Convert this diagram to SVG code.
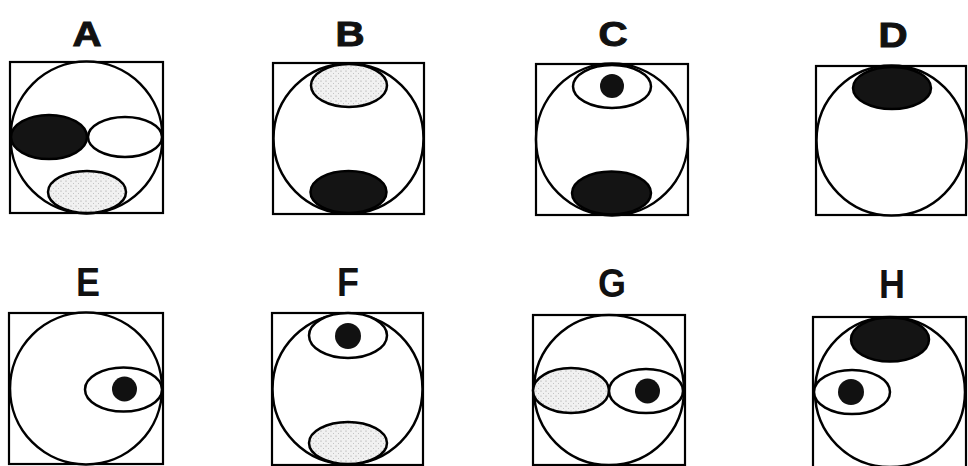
<svg xmlns="http://www.w3.org/2000/svg" width="968" height="466" viewBox="0 0 968 466">
<style>
.sq{fill:#fff;stroke:#000;stroke-width:2.2}
.ci{fill:#fff;stroke:#000;stroke-width:2.5}
.w{fill:#fff;stroke:#000;stroke-width:2.5}
.g{fill:url(#stip);stroke:#000;stroke-width:2.5}
.b{fill:#141414;stroke:#000;stroke-width:2.5}
.dot{fill:#111}
.l1{font-family:"Liberation Sans",Arial,sans-serif;font-weight:bold;font-size:35px;text-anchor:middle;fill:#111;stroke:#111;stroke-width:1}
.l2{font-family:"Liberation Sans",Arial,sans-serif;font-weight:bold;font-size:40px;text-anchor:middle;fill:#111}
</style>
<defs>
<pattern id="stip" width="5" height="5" patternUnits="userSpaceOnUse">
<rect width="5" height="5" fill="#f1f1f1"/>
<circle cx="1" cy="1" r="0.6" fill="#9a9a9a"/>
<circle cx="3.5" cy="3.5" r="0.5" fill="#b5b5b5"/>
</pattern>
</defs>
<g id="A">
<text class="l1" transform="translate(87,46) scale(1.15,1)">A</text>
<rect class="sq" x="10" y="62" width="153" height="151"/>
<circle class="ci" cx="86.5" cy="137.5" r="76"/>
<ellipse class="b" cx="49" cy="137" rx="38" ry="22"/>
<ellipse class="w" cx="125" cy="137" rx="37" ry="20"/>
<ellipse class="g" cx="87" cy="192" rx="39" ry="21"/>
</g>
<g id="B">
<text class="l1" transform="translate(350,46) scale(1.15,1)">B</text>
<rect class="sq" x="273" y="63" width="151" height="151"/>
<circle class="ci" cx="348.5" cy="138.5" r="75"/>
<ellipse class="g" cx="349" cy="85.5" rx="38" ry="21.5"/>
<ellipse class="b" cx="348.5" cy="192" rx="38" ry="21"/>
</g>
<g id="C">
<text class="l1" transform="translate(613,46) scale(1.15,1)">C</text>
<rect class="sq" x="536" y="64" width="152" height="151"/>
<circle class="ci" cx="612" cy="139.5" r="76"/>
<ellipse class="w" cx="612" cy="86.5" rx="39" ry="21.5"/>
<circle class="dot" cx="612" cy="86" r="12"/>
<ellipse class="b" cx="611.5" cy="193" rx="39.5" ry="21.5"/>
</g>
<g id="D">
<text class="l1" transform="translate(893,47) scale(1.15,1)">D</text>
<rect class="sq" x="816" y="66" width="150" height="149"/>
<circle class="ci" cx="891.5" cy="140.5" r="75"/>
<ellipse class="b" cx="892" cy="88" rx="39" ry="21"/>
</g>
<g id="E">
<text class="l2" transform="translate(88,296) scale(0.9,1)">E</text>
<rect class="sq" x="9" y="313" width="154" height="151"/>
<circle class="ci" cx="86" cy="388.5" r="76"/>
<ellipse class="w" cx="123.5" cy="389.5" rx="38.5" ry="22"/>
<circle class="dot" cx="124.5" cy="389" r="12.5"/>
</g>
<g id="F">
<text class="l2" transform="translate(348,296) scale(0.9,1)">F</text>
<rect class="sq" x="272" y="313" width="151" height="152"/>
<circle class="ci" cx="347.5" cy="389" r="75"/>
<ellipse class="w" cx="348" cy="335.5" rx="39" ry="22.5"/>
<circle class="dot" cx="348" cy="336" r="13"/>
<ellipse class="g" cx="348" cy="443" rx="39" ry="21"/>
</g>
<g id="G">
<text class="l2" transform="translate(612,297) scale(0.9,1)">G</text>
<rect class="sq" x="533" y="315" width="152" height="150"/>
<circle class="ci" cx="609" cy="390" r="75"/>
<ellipse class="g" cx="571" cy="390.5" rx="38" ry="22.5"/>
<ellipse class="w" cx="646" cy="391" rx="37" ry="22"/>
<circle class="dot" cx="647.5" cy="391" r="12.5"/>
</g>
<g id="H">
<text class="l2" transform="translate(892,298) scale(0.9,1)">H</text>
<rect class="sq" x="813" y="317" width="153" height="152"/>
<circle class="ci" cx="890" cy="392" r="75"/>
<ellipse class="b" cx="890" cy="339.5" rx="39" ry="22"/>
<ellipse class="w" cx="852" cy="392" rx="38" ry="22"/>
<circle class="dot" cx="851" cy="392" r="13"/>
</g>
<g id="connectors"/>
</svg>
